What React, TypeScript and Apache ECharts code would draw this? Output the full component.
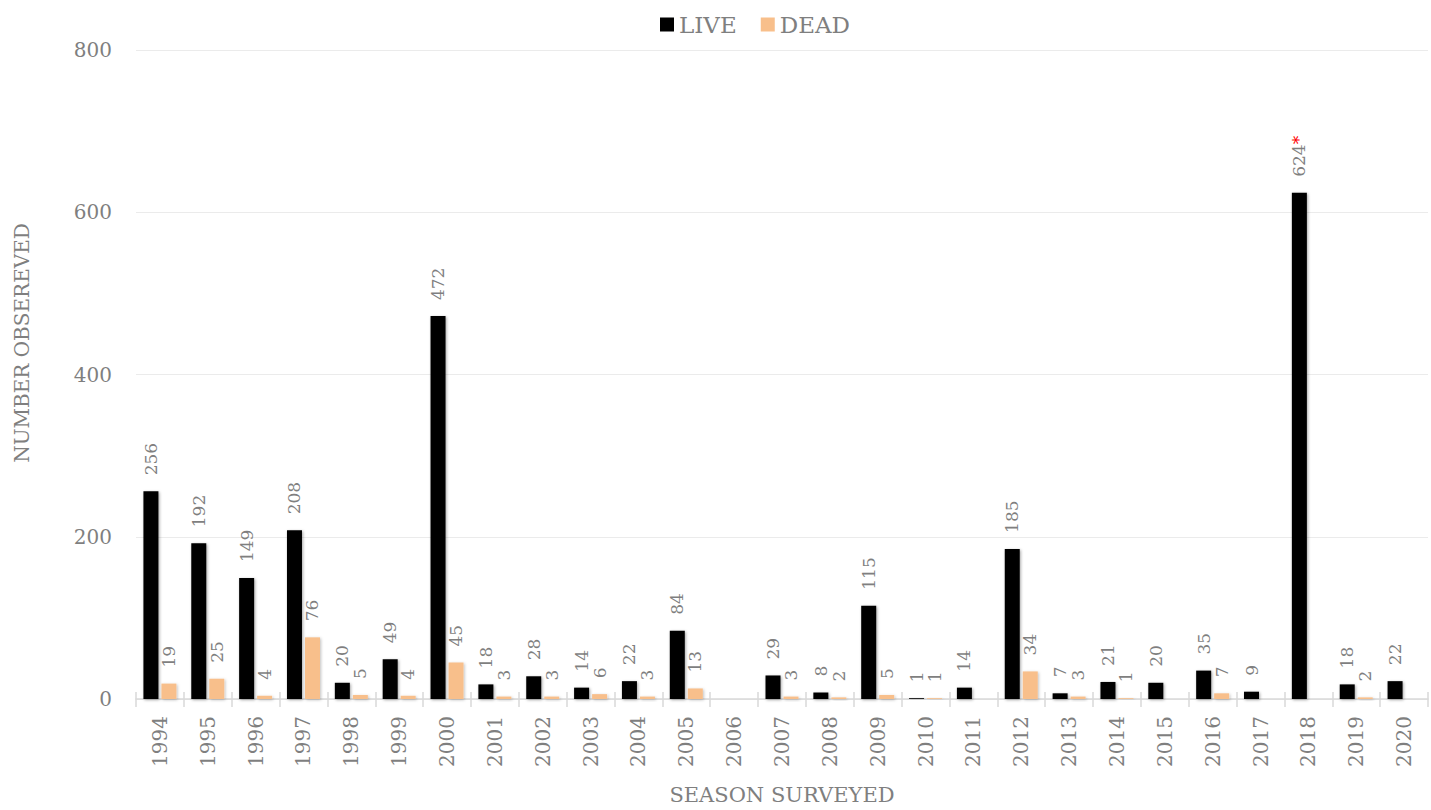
import React, { useEffect, useRef } from "react";
import * as echarts from "echarts";

const seasons = [
  "1994", "1995", "1996", "1997", "1998", "1999", "2000", "2001", "2002", "2003",
  "2004", "2005", "2006", "2007", "2008", "2009", "2010", "2011", "2012", "2013",
  "2014", "2015", "2016", "2017", "2018", "2019", "2020",
];
const live: (number | null)[] = [
  256, 192, 149, 208, 20, 49, 472, 18, 28, 14,
  22, 84, null, 29, 8, 115, 1, 14, 185, 7,
  21, 20, 35, 9, 624, 18, 22,
];
const dead: (number | null)[] = [
  19, 25, 4, 76, 5, 4, 45, 3, 3, 6,
  3, 13, null, 3, 2, 5, 1, null, 34, 3,
  1, null, 7, null, null, 2, null,
];
const flaggedSeason = "2018";
const yTicks = { min: 0, max: 800, interval: 200 };

const FONT = "'DejaVu Serif', 'Liberation Serif', serif";
const GRAY = "#7f7f7f";
const ORANGE = "#F8BF8B";

export default function App() {
  const ref = useRef<HTMLDivElement>(null);
  useEffect(() => {
    if (!ref.current) return;
    const chart = echarts.init(ref.current, undefined, { renderer: "svg" });
    const labelBase = {
      show: true,
      position: "top" as const,
      rotate: 90,
      align: "left" as const,
      verticalAlign: "middle" as const,
      distance: 16,
      color: GRAY,
      fontFamily: FONT,
      fontSize: 17,
    };
    chart.setOption({
      animation: false,
      textStyle: { fontFamily: FONT },
      legend: {
        top: 8,
        left: 655,
        itemWidth: 14,
        itemHeight: 14,
        itemGap: 24,
        icon: "rect",
        textStyle: { color: GRAY, fontSize: 23, fontFamily: FONT },
        data: ["LIVE", "DEAD"],
      },
      grid: { left: 136, right: 3, top: 50, bottom: 106, containLabel: false },
      graphic: [
        {
          type: "text",
          x: 22,
          y: 343,
          rotation: Math.PI / 2,
          style: {
            text: "NUMBER OBSEREVED",
            fill: GRAY,
            font: `20px ${FONT}`,
            textAlign: "center",
            textVerticalAlign: "middle",
          },
        },
      ],
      xAxis: [
        {
          type: "category",
          data: seasons,
          position: "bottom",
          name: "SEASON SURVEYED",
          nameLocation: "middle",
          nameGap: 85,
          nameTextStyle: { color: GRAY, fontSize: 21, fontFamily: FONT },
          axisLine: { show: true, lineStyle: { color: "#d9d9d9", width: 1.5 } },
          axisTick: { show: true, alignWithLabel: false, length: 8, lineStyle: { color: "#d9d9d9", width: 1.5 } },
          axisLabel: { rotate: 90, color: GRAY, fontSize: 20, fontFamily: FONT, margin: 17, interval: 0 },
        },
        {
          type: "category",
          data: seasons,
          position: "bottom",
          offset: 0,
          axisLine: { show: false },
          axisTick: { show: true, inside: true, length: 7, lineStyle: { color: "#d9d9d9", width: 1.5 } },
          axisLabel: { show: false },
          splitLine: { show: false },
        },
      ],
      yAxis: {
        type: "value",
        min: yTicks.min,
        max: yTicks.max,
        interval: yTicks.interval,
        axisLine: { show: false },
        axisTick: { show: false },
        axisLabel: { color: GRAY, fontSize: 20, fontFamily: FONT, margin: 24 },
        splitLine: { lineStyle: { color: "#ebebeb", width: 1 } },
      },
      series: [
        {
          name: "LIVE",
          type: "bar",
          xAxisIndex: 0,
          data: live,
          barWidth: 15,
          barGap: "20%",
          itemStyle: {
            color: "#000000",
            shadowBlur: 3,
            shadowColor: "rgba(0,0,0,0.35)",
            shadowOffsetX: 1,
            shadowOffsetY: 1,
          },
          label: {
            ...labelBase,
            formatter: (p: any) =>
              p.name === flaggedSeason ? `{v|${p.value}}{r|*}` : `${p.value}`,
            rich: {
              v: { color: GRAY, fontSize: 17, fontFamily: FONT },
              r: { color: "#ff0000", fontSize: 17, fontFamily: FONT, verticalAlign: "top" },
            },
          },
        },
        {
          name: "DEAD",
          type: "bar",
          xAxisIndex: 0,
          data: dead,
          barWidth: 15,
          barGap: "20%",
          itemStyle: {
            color: ORANGE,
            shadowBlur: 3,
            shadowColor: "rgba(0,0,0,0.25)",
            shadowOffsetX: 1,
            shadowOffsetY: 1,
          },
          label: { ...labelBase },
        },
      ],
    });
    return () => chart.dispose();
  }, []);
  return <div ref={ref} style={{ width: 1431, height: 810, position: "absolute", left: 0, top: 0 }} />;
}
